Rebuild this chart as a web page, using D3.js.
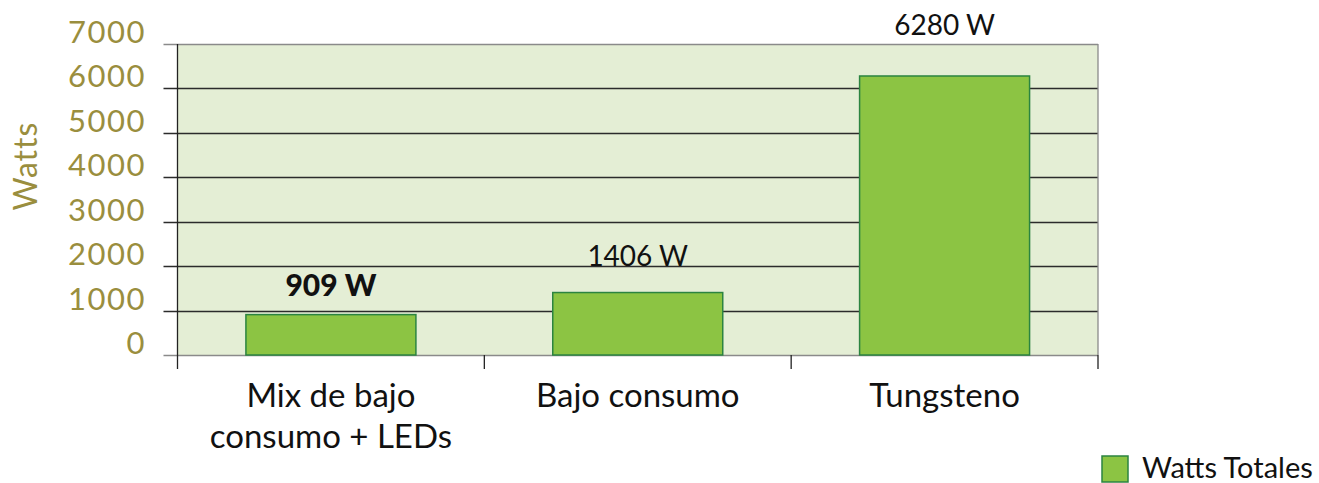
<!DOCTYPE html>
<html>
<head>
<meta charset="utf-8">
<script src="https://cdn.jsdelivr.net/npm/d3@7"></script>
<style>
  html, body { margin: 0; padding: 0; background: #ffffff; }
  svg { display: block; }
  text { font-family: "Lato", "Noto Sans", sans-serif; }
</style>
</head>
<body>
<svg id="chart" width="1319" height="483"></svg>
<script>
// Installed lighting power per option
const categories = [["Mix de bajo", "consumo + LEDs"], ["Bajo consumo"], ["Tungsteno"]];
const watts = [909, 1406, 6280];
const valueLabels = ["909 W", "1406 W", "6280 W"];
const yTicks = [0, 1000, 2000, 3000, 4000, 5000, 6000, 7000];
const seriesName = "Watts Totales";
const axisTitle = "Watts";

const svg = d3.select("#chart");
const plot = { left: 177.5, right: 1098, top: 44, bottom: 355 };

const x = d3.scaleBand()
  .domain(d3.range(categories.length))
  .range([plot.left, plot.right])
  .paddingInner(0.446)
  .paddingOuter(0.223);

const y = d3.scaleLinear().domain([0, 7000]).range([plot.bottom, plot.top]);

const olive = "#9a8e3e";
const barFill = "#8cc443";
const barStroke = "#2b8440";

// plot background
svg.append("rect")
  .attr("x", plot.left).attr("y", plot.top)
  .attr("width", plot.right - plot.left).attr("height", plot.bottom - plot.top)
  .attr("fill", "#e4eed5");

// horizontal gridlines (with the outer tick stubs to the left)
svg.append("g").selectAll("line")
  .data(yTicks)
  .join("line")
  .attr("x1", plot.left - 14).attr("x2", plot.right)
  .attr("y1", d => Math.round(y(d)) + 0.5)
  .attr("y2", d => Math.round(y(d)) + 0.5)
  .attr("stroke", d => (d === 0 || d === 7000) ? "#8a8a8a" : "#2b2b2b")
  .attr("stroke-width", 1.3);

// right border of the plot
svg.append("line")
  .attr("x1", plot.right).attr("x2", plot.right)
  .attr("y1", plot.top).attr("y2", plot.bottom)
  .attr("stroke", "#8a8a8a").attr("stroke-width", 1.3);

// bars
svg.append("g").selectAll("rect")
  .data(watts)
  .join("rect")
  .attr("x", (d, i) => x(i))
  .attr("y", d => y(d))
  .attr("width", x.bandwidth())
  .attr("height", d => plot.bottom - y(d))
  .attr("fill", barFill)
  .attr("stroke", barStroke)
  .attr("stroke-width", 1.5);

// y axis line
svg.append("line")
  .attr("x1", plot.left).attr("x2", plot.left)
  .attr("y1", plot.top).attr("y2", plot.bottom + 14)
  .attr("stroke", "#222").attr("stroke-width", 1.3);

// category separator ticks below the axis
const sepX = d3.range(1, categories.length + 1)
  .map(i => i === categories.length ? plot.right : x(i) - x.step() * x.paddingInner() / 2);
svg.append("g").selectAll("line")
  .data(sepX)
  .join("line")
  .attr("x1", d => d).attr("x2", d => d)
  .attr("y1", plot.bottom).attr("y2", plot.bottom + 14)
  .attr("stroke", "#222").attr("stroke-width", 1.3);

// y tick labels
svg.append("g").selectAll("text")
  .data(yTicks)
  .join("text")
  .attr("x", 146)
  .attr("y", d => y(d) - 1)
  .attr("text-anchor", "end")
  .attr("font-size", 31)
  .attr("letter-spacing", 1.5)
  .attr("fill", olive)
  .text(d => d);

// axis title
svg.append("text")
  .attr("transform", "translate(37,166) rotate(-90)")
  .attr("text-anchor", "middle")
  .attr("font-size", 32)
  .attr("letter-spacing", 1)
  .attr("fill", olive)
  .text(axisTitle);

// category labels
const catG = svg.append("g");
categories.forEach((lines, i) => {
  const t = catG.append("text")
    .attr("x", x(i) + x.bandwidth() / 2)
    .attr("y", 407)
    .attr("text-anchor", "middle")
    .attr("font-size", 33)
    .attr("fill", "#111");
  lines.forEach((ln, j) => {
    t.append("tspan")
      .attr("x", x(i) + x.bandwidth() / 2)
      .attr("dy", j === 0 ? 0 : 41)
      .text(ln);
  });
});

// value labels
const labelY = [296, 266, 35];
svg.append("g").selectAll("text")
  .data(watts)
  .join("text")
  .attr("x", (d, i) => x(i) + x.bandwidth() / 2)
  .attr("y", (d, i) => labelY[i])
  .attr("text-anchor", "middle")
  .attr("font-size", (d, i) => i === 0 ? 30 : 28)
  .attr("font-weight", (d, i) => i === 0 ? 900 : 400)
  .attr("fill", "#111")
  .text((d, i) => valueLabels[i]);

// legend
svg.append("rect")
  .attr("x", 1102).attr("y", 456)
  .attr("width", 26).attr("height", 26)
  .attr("fill", barFill)
  .attr("stroke", barStroke)
  .attr("stroke-width", 1.5);
svg.append("text")
  .attr("x", 1142).attr("y", 478)
  .attr("font-size", 29)
  .attr("fill", "#111")
  .text(seriesName);
</script>
</body>
</html>
